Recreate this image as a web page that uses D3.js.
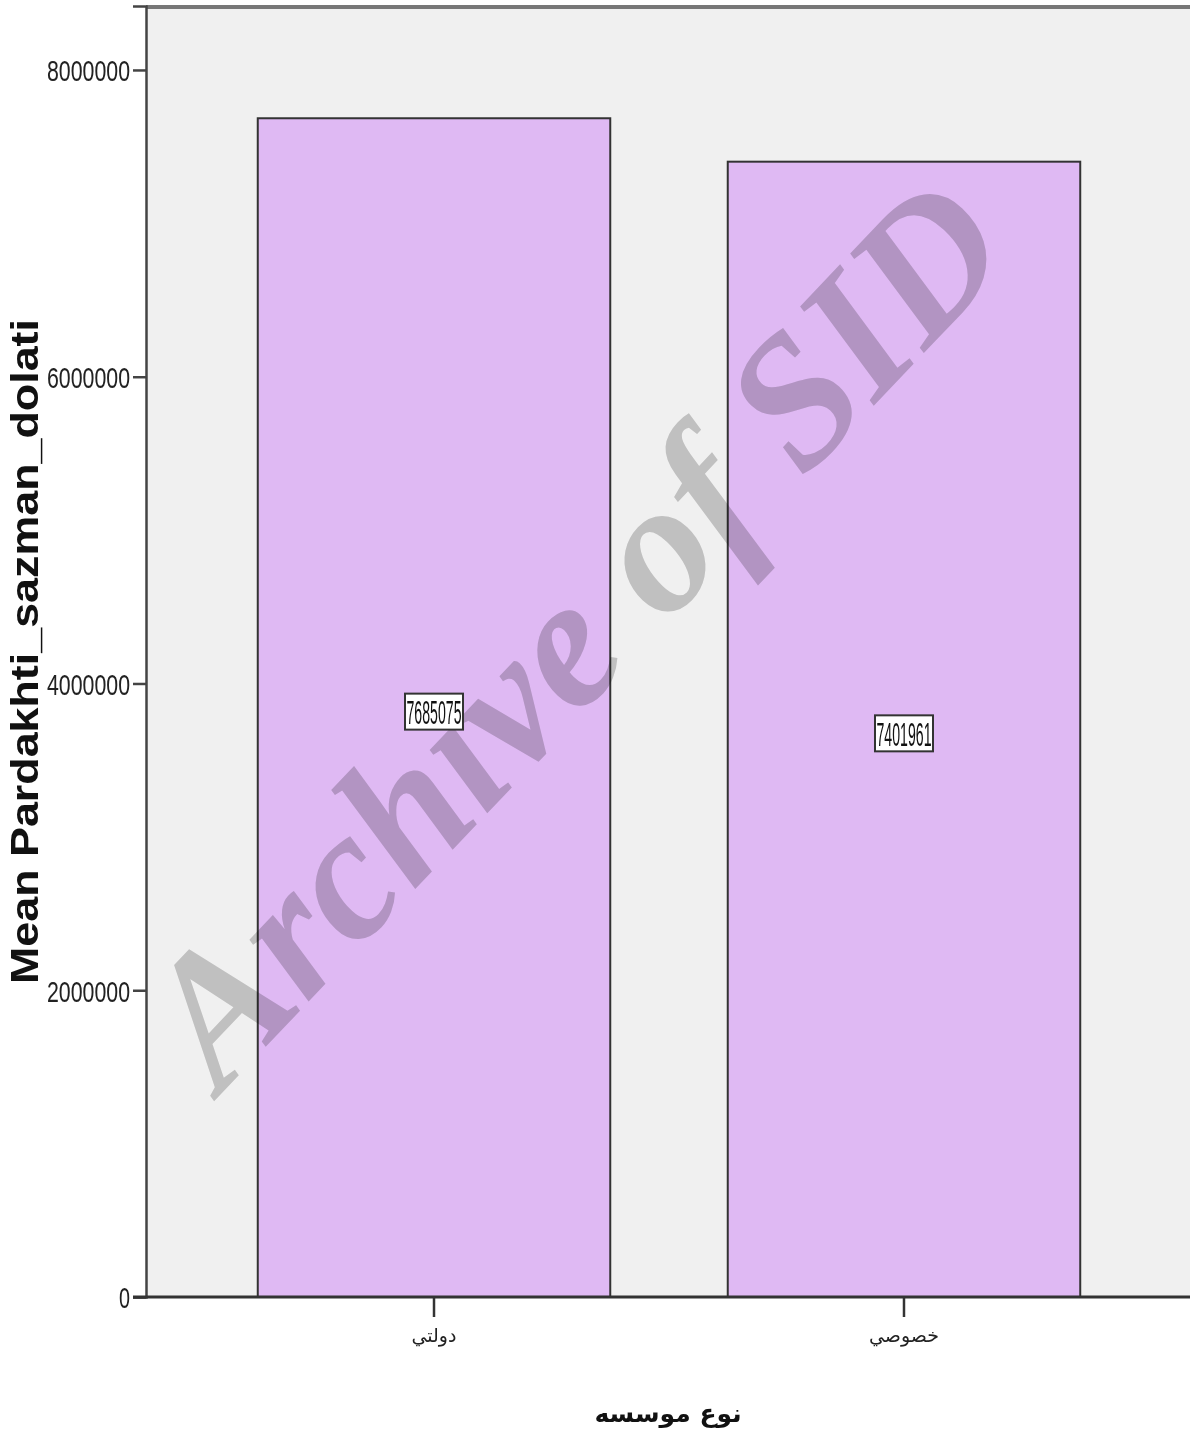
<!DOCTYPE html>
<html><head><meta charset="utf-8">
<script src="https://cdn.jsdelivr.net/npm/d3@7"></script>
<style>body{margin:0;background:#fff}</style>
</head><body>
<script>
const categories = ["دولتي", "خصوصي"];
const values = [7685075, 7401961];
const valueLabels = ["7685075", "7401961"];
const yTicks = [0, 2000000, 4000000, 6000000, 8000000];
const yTitle = "Mean Pardakhti_sazman_dolati";
const xTitle = "نوع موسسه";
const watermark = "Archive of SID";

(function () {
const W = 1190, H = 1436;
const mLeft = 146, mRight = 1192, mTop = 6, mBottom = 1297;
const svg = d3.select("body").append("svg").attr("width", W).attr("height", H);

const y = d3.scaleLinear().domain([0, 8417000]).range([mBottom, mTop]);
const x = d3.scaleBand().domain(categories).range([mLeft, mRight]).paddingInner(0.25).paddingOuter(0.2378);

svg.append("rect").attr("x", mLeft).attr("y", mTop).attr("width", W - mLeft).attr("height", mBottom - mTop).attr("fill", "#f0f0f0");

svg.selectAll("rect.bar").data(categories).enter().append("rect")
  .attr("class", "bar")
  .attr("x", d => x(d)).attr("y", (d, i) => y(values[i]))
  .attr("width", x.bandwidth()).attr("height", (d, i) => y(0) - y(values[i]))
  .attr("fill", "#dfb9f3").attr("stroke", "#333").attr("stroke-width", 2);

// watermark
svg.append("text").text(watermark)
  .attr("transform", "translate(588,645) rotate(-46.5)")
  .attr("text-anchor", "middle").attr("dominant-baseline", "middle")
  .attr("font-family", "'Liberation Serif', 'DejaVu Serif', serif")
  .attr("font-style", "italic").attr("font-weight", "bold")
  .attr("font-size", 186).attr("fill", "#cccccc").style("mix-blend-mode", "multiply");

// top border
svg.append("line").attr("x1", mLeft).attr("x2", W).attr("y1", mTop + 1).attr("y2", mTop + 1).attr("stroke", "#777").attr("stroke-width", 4);

// y axis
const yAxis = d3.axisLeft(y).tickValues(yTicks).tickSize(13).tickPadding(3).tickFormat(d3.format("d"));
const gy = svg.append("g").attr("transform", `translate(${mLeft},0)`).call(yAxis);
gy.select(".domain").attr("stroke", "#444").attr("stroke-width", 2.5);
gy.selectAll(".tick line").attr("stroke", "#444").attr("stroke-width", 2.5);
gy.selectAll(".tick text").attr("font-family", "'Liberation Sans Narrow', 'Liberation Sans', Arial").attr("font-size", 30).attr("fill", "#222").attr("dy", "0.36em")
  .attr("textLength", d => d === 0 ? 11 : 83).attr("lengthAdjust", "spacingAndGlyphs");

// x axis
const xAxis = d3.axisBottom(x).tickSize(20).tickPadding(12);
const gx = svg.append("g").attr("transform", `translate(0,${mBottom})`).call(xAxis);
gx.select(".domain").attr("stroke", "#333").attr("stroke-width", 3).attr("d", `M${mLeft - 13},0H${W}`);
gx.selectAll(".tick line").attr("stroke", "#333").attr("stroke-width", 2.5);
gx.selectAll(".tick text").attr("font-family", "'DejaVu Sans', 'Noto Sans', sans-serif").attr("font-size", 19).attr("fill", "#222");

// value labels
const lab = svg.selectAll("g.lab").data(categories).enter().append("g").attr("class", "lab")
  .attr("transform", (d, i) => `translate(${x(d) + x.bandwidth() / 2},${(y(values[i]) + y(0)) / 2 + 4})`);
lab.append("rect").attr("x", -29).attr("y", -18).attr("width", 58).attr("height", 36)
  .attr("fill", "#fff").attr("stroke", "#333").attr("stroke-width", 2);
lab.append("text").text((d, i) => valueLabels[i]).attr("text-anchor", "middle").attr("dy", "0.36em")
  .attr("font-family", "'Liberation Sans Narrow', 'Liberation Sans', Arial").attr("font-size", 34).attr("fill", "#111")
  .attr("textLength", 55).attr("lengthAdjust", "spacingAndGlyphs");

// titles
svg.append("text").text(yTitle).attr("transform", `translate(38,${(mTop + mBottom) / 2}) rotate(-90)`)
  .attr("text-anchor", "middle").attr("font-family", "'Liberation Sans', Arial, sans-serif")
  .attr("font-weight", "bold").attr("font-size", 39).attr("fill", "#111")
  .attr("textLength", 665).attr("lengthAdjust", "spacingAndGlyphs");
svg.append("text").text(xTitle).attr("x", (mLeft + W) / 2).attr("y", 1422).attr("text-anchor", "middle")
  .attr("font-family", "'DejaVu Sans', 'Noto Sans', sans-serif").attr("font-weight", "bold").attr("font-size", 25).attr("fill", "#111");
})();
</script>
</body></html>
